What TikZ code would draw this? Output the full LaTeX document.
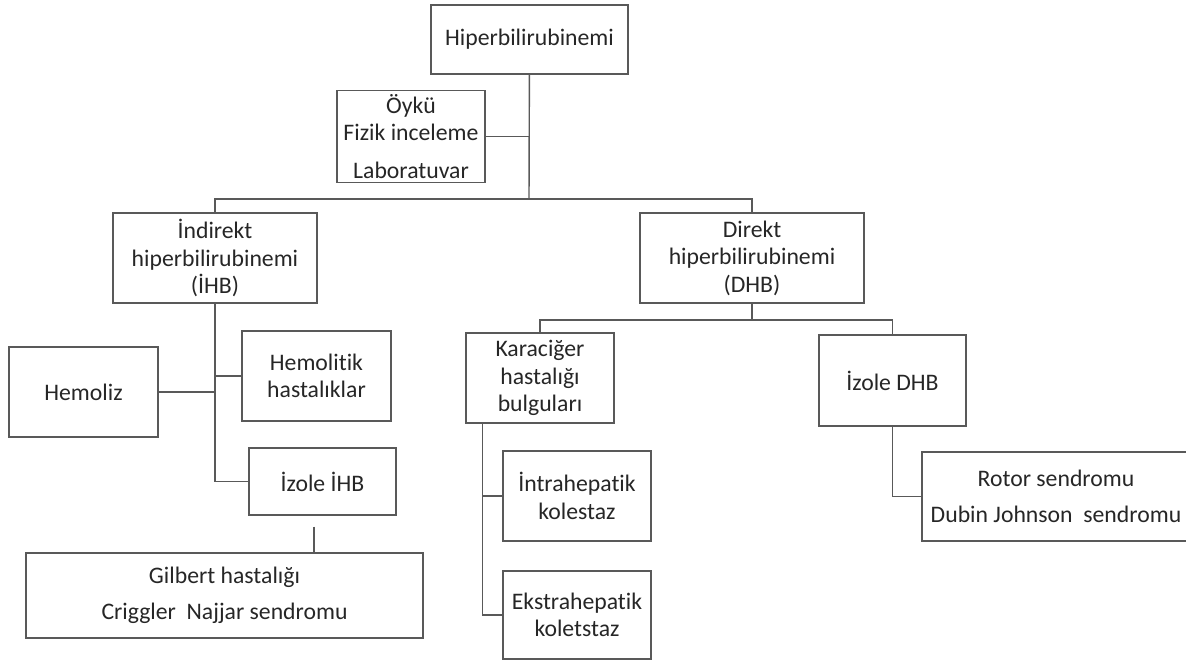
\documentclass[tikz,border=0pt]{standalone}
\usepackage{fontspec}
\setmainfont{Carlito}[Ligatures=NoCommon]
\usetikzlibrary{positioning}

\begin{document}
\begin{tikzpicture}[    x=0.02cm, y=-0.02cm,
    font=\fontsize{13.5}{15.6}\selectfont,
    base/.style={draw=black!65, line width=0.8pt, rectangle, align=center, text=black!85, inner sep=2pt},
    proc/.style={base, minimum width=2.96cm, minimum height=1.8cm},
    wide/.style={base, minimum height=1.78cm},
    link/.style={draw, black!65, line width=0.8pt}]

\useasboundingbox (0,0) rectangle (1186,664);

\node [base, minimum width=3.94cm, minimum height=1.38cm] (top) at (529.5,39.5) {Hiperbilirubinemi};
\node [proc, minimum height=1.82cm] (oyku) at (411,136.5) {Öykü\\Fizik inceleme\\[6pt]Laboratuvar};
\node [proc, minimum width=4.08cm] (ihb) at (215,258) {İndirekt\\hiperbilirubinemi\\(İHB)};
\node [proc, minimum width=4.48cm] (dhb) at (752,258) {Direkt\\hiperbilirubinemi\\(DHB)};
\node [proc, minimum width=2.98cm] (hemoliz) at (83.5,392) {Hemoliz};
\node [proc, minimum width=2.98cm] (hemolitik) at (316.5,376) {Hemolitik\\hastalıklar};
\node [proc, minimum width=2.94cm, minimum height=1.34cm] (izihb) at (322.5,481.5) {İzole İHB};
\node [wide, minimum width=7.94cm, minimum height=1.7cm] (gilbert) at (224.5,595.5) {Gilbert hastalığı\\[5pt]Criggler\ \ Najjar sendromu};
\node [proc] (karaciger) at (540,378) {Karaciğer\\hastalığı\\bulguları};
\node [proc] (intra) at (577,496) {İntrahepatik\\kolestaz};
\node [proc, minimum height=1.76cm] (ekstra) at (577,615) {Ekstrahepatik\\koletstaz};
\node [proc, minimum width=2.94cm, minimum height=1.82cm] (izdhb) at (892.5,380.5) {İzole DHB};
\node [wide, minimum width=5.36cm] (rotor) at (1056,496.5) {Rotor sendromu\\[5pt]Dubin Johnson\ \ sendromu};

% split points
\coordinate (split) at (529,199);
\coordinate (dsplit) at (752,320);
\coordinate (kl) at ([xshift=0.34cm]karaciger.south west);
\coordinate (gl) at ([xshift=-0.17cm,yshift=-0.22cm]izihb.south);

\draw [link] (top) -- (split);
\draw [link] (ihb.north) |- (split) -| (dhb.north);
\draw [link] (oyku.east) -- (oyku.east -| split);
\draw [link] (ihb.south) |- (izihb.west);
\draw [link] (hemolitik.west) -- (hemolitik.west -| ihb.south);
\draw [link] (hemoliz.east) -- (hemoliz.east -| ihb.south);
\draw [link] (gl) -- (gl |- gilbert.north);
\draw [link] (dhb) -- (dsplit);
\draw [link] (karaciger.north) |- (dsplit) -| (izdhb.north);
\draw [link] (kl) |- (ekstra.west);
\draw [link] (intra.west) -- (intra.west -| kl);
\draw [link] (izdhb.south) |- (rotor.west);

\end{tikzpicture}
\end{document}
